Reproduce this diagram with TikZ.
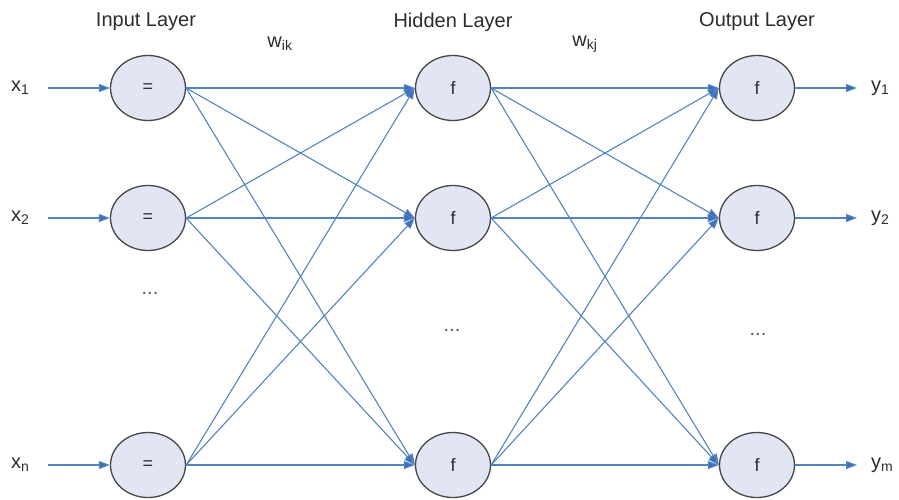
\documentclass[tikz,border=0pt]{standalone}
\usepackage{fontspec}
\setmainfont{Liberation Sans}
\usetikzlibrary{shapes.geometric,arrows.meta}
\definecolor{edgeblue}{RGB}{84,132,192}
\definecolor{tipblue}{RGB}{60,110,185}
\definecolor{cellfill}{RGB}{226,230,244}
\definecolor{cellline}{RGB}{70,70,70}
\definecolor{txt}{RGB}{45,45,45}
\tikzset{
  neuron/.style={ellipse, draw=cellline, line width=1.3pt, fill=cellfill,
    minimum width=75pt, minimum height=65pt, inner sep=0pt, font=\fontsize{18}{18}\selectfont, text=txt},
  link/.style={draw=edgeblue, line width=1.1pt, -{Triangle[length=11pt,width=8pt,fill=tipblue]}},
  lbl/.style={font=\fontsize{20}{20}\selectfont, text=txt, inner sep=0pt},
  dots/.style={font=\fontsize{20}{20}\selectfont, text=txt!80, inner sep=0pt}
}
\begin{document}
\begin{tikzpicture}[x=1pt,y=-1pt]
\useasboundingbox (0,0) rectangle (899,499);
\fill[white] (0,0) rectangle (899,499);

% layer titles and weight labels
\node[lbl] (tin)  at (146,22) {Input Layer};
\node[lbl] (thid) at (453,22) {Hidden Layer};
\node[lbl] (tout) at (757,22) {Output Layer};
\node[lbl] (wik) at (280,44) {w\textsubscript{ik}};
\node[lbl] (wkj) at (585,44) {w\textsubscript{kj}};

% input layer
\node[neuron] (i1) at (148,88)  {=};
\node[neuron] (i2) at (148,218) {=};
\node[neuron] (in) at (148,465) {=};
\node[dots] (idots) at (150,293) {...};

% hidden layer
\node[neuron] (h1) at (453,88)  {f};
\node[neuron] (h2) at (453,218) {f};
\node[neuron] (hn) at (453,465) {f};
\node[dots] (hdots) at (452,330) {...};

% output layer
\node[neuron] (o1) at (757,88)  {f};
\node[neuron] (o2) at (757,218) {f};
\node[neuron] (om) at (757,465) {f};
\node[dots] (odots) at (758,334) {...};

% inputs
\node[lbl, anchor=west] (x1) at (11,88)  {x\textsubscript{1}};
\node[lbl, anchor=west] (x2) at (11,218) {x\textsubscript{2}};
\node[lbl, anchor=west] (xn) at (11,465) {x\textsubscript{n}};
\coordinate (s1) at (48,88);
\coordinate (s2) at (48,218);
\coordinate (sn) at (48,465);
\draw[link] (s1) -- (i1.west);
\draw[link] (s2) -- (i2.west);
\draw[link] (sn) -- (in.west);

% outputs
\node[lbl, anchor=west] (y1) at (871,88)  {y\textsubscript{1}};
\node[lbl, anchor=west] (y2) at (871,218) {y\textsubscript{2}};
\node[lbl, anchor=west] (ym) at (871,465) {y\textsubscript{m}};
\coordinate (e1) at (857,88);
\coordinate (e2) at (857,218);
\coordinate (em) at (857,465);
\draw[link] (o1.east) -- (e1);
\draw[link] (o2.east) -- (e2);
\draw[link] (om.east) -- (em);

% full connections input -> hidden -> output
\foreach \a in {i1,i2,in}
  \foreach \b in {h1,h2,hn}
    \draw[link] (\a.east) -- (\b.west);
\foreach \a in {h1,h2,hn}
  \foreach \b in {o1,o2,om}
    \draw[link] (\a.east) -- (\b.west);
\end{tikzpicture}
\end{document}
